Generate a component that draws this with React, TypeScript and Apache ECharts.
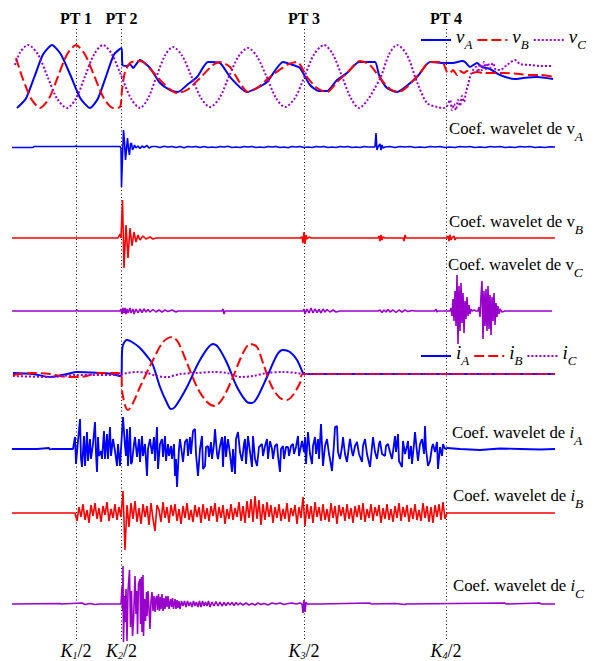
import React, { useEffect, useRef } from 'react';
import * as echarts from 'echarts';

type P = [number, number];

// ---------- time axis (samples) and events ----------
const T_MAX = 543;
const EVENT_T = [64, 109.5, 292, 434];
const EVENT_TOP = ['PT 1', 'PT 2', 'PT 3', 'PT 4'];
const EVENT_K = ['1', '2', '3', '4'];

// ---------- voltages ----------
const vA: P[] = [[5,-31.5],[14,-22],[22.5,0],[31,22],[40,31.5],[49,22],[59,0],[68.5,-22],[78,-31.5],[86,-22],[94,0],[102,22],[109.5,28.5],[110.5,11.5],[115,10.5],[118,12.5],[121,8.5],[128,16.5],[138,8.5],[148,-6.5],[158,-13.5],[166,-15.5],[175,-8.5],[185,-0.5],[196,14.5],[208,13.5],[218,-0.5],[235,-15.5],[245,-11.5],[255,-5.5],[271,14.5],[281,11.5],[288,8.5],[298,-8.5],[307,-14.5],[315,-14.5],[325,-3.5],[335,3.5],[347,14.5],[363,14.5],[367,1.5],[375,-11.5],[385,-15.5],[392,-11.5],[405,-0.5],[418,14.5],[433,13.5],[441,13.5],[450,15.5],[453,14.5],[458,9.5],[465,13.5],[470,9.5],[478,7.5],[488,1.5],[503,-2.5],[511,-1.5],[525,-0.5],[541,-2.5]];
const vB: P[] = [[4,18.5],[10,0],[19,-22],[28,-31.5],[37,-22],[46,0],[55,22],[64,31.5],[73,22],[82.5,0],[92,-22],[101,-31.5],[108,-30.5],[110,-13.5],[113,4.5],[118,13.5],[125,15.5],[131,14.5],[141,4.5],[151,-6.5],[165,-16.5],[175,-13.5],[188,-1.5],[201,11.5],[208,14.5],[218,9.5],[228,-6.5],[236,-15.5],[245,-11.5],[258,-0.5],[275,11.5],[285,14.5],[295,-0.5],[305,-11.5],[315,-15.5],[325,-5.5],[335,3.5],[348,15.5],[358,11.5],[368,-1.5],[378,-12.5],[387,-15.5],[395,-10.5],[408,3.5],[418,14.5],[430,14.5],[435,4.5],[438,3.5],[441,6.5],[445,1.5],[448,5.5],[452,3.5],[455,5.5],[460,3.5],[465,4.5],[472,3.5],[481,3.5],[492,3.5],[508,2.5],[518,1.5],[528,1.5],[542,-0.5]];
const vC: P[] = [[3,11.5],[8,24],[16,31.5],[26,22],[35.5,0],[45,-22],[55,-31.5],[64,-22],[73,0],[82,22],[91,31.5],[100,22],[109.5,0],[119,-22],[128,-31.5],[136,-22],[144.5,0],[153,21],[161,29.5],[170,21],[179.5,0],[189,-21.5],[198,-30.5],[207.5,-21.5],[217,0],[226.5,20],[236,28.5],[245,20],[254.5,0],[264,-21.5],[273,-30.5],[283,-21.5],[292.5,0],[302,22],[312,31.5],[321,22],[330,0],[339,-22],[347,-31.5],[356,-23],[362,-13],[369,0],[377,22],[385,31.5],[395,21.5],[405,-5.5],[415,-26.5],[425,-30.5],[432,-31.5],[435,-29.5],[438,-23.5],[440,-33.5],[442,-27.5],[444,-33.5],[446,-23.5],[448,-29.5],[450,-19.5],[452,-25.5],[454,-15.5],[456,-8.5],[458,-0.5],[461,6.5],[464,9.5],[466,4.5],[468,12.5],[470,6.5],[472,14.5],[474,7.5],[476,13.5],[478,8.5],[481,13.5],[484,6.5],[488,6.5],[495,11.5],[503,16.5],[508,12.5],[518,11.5],[528,10.5],[541,10.5]];

// ---------- voltage wavelet coefficients ----------
const wA_head: P[] = [[0,-0.5],[21,-0.5],[22,0.5],[63,0.5],[64,1],[65,0.5],[108,0.5],[109,-1],[109.5,-40],[110.5,-10],[111.5,17],[112.5,5],[113.5,-13],[114.5,-2],[115.5,9],[116.5,-2],[117.5,-8],[118.5,3],[119.5,4],[120.5,-3],[121.5,-1],[122.5,2],[124,-1],[126,1],[128,-1.5],[130,1],[132,-0.5],[135,1.5],[137,-1],[140,0.5]];
const wA_noise_t0 = 144, wA_noise_dt = 4;
const wA_noise = [0.5,-0.5,0.8,0,0.5,-0.5,0.5,-0.8,0.5,0,0.5,-0.5,0.5,-0.5,0,-0.5,0.5,0,0.8,-0.5,0,-0.5,0.5,0,0.5,-0.5,0,-0.5,0.5,0,0.5,-0.5,0,-0.8,0.5,0,0.5,-0.5,0,-0.5,0.5,0,0.5,-0.5,0,-0.5,0.5,0,0.5,-0.5,0,-0.5,0.5,0,0];
const wA_spike: P[] = [[363,0],[364,14],[365,-3],[366,0],[368,3],[369,-3],[370,2],[371,-1],[373,0]];
const wA_tail_t0 = 378, wA_tail_dt = 5;
const wA_tail = [0.5,-0.5,0.5,0,0.5,-0.5,0,-0.5,0.5,0,0.5,-0.5,0,-0.5,0.5,0,0.5,-0.5,0,-0.5,0.5,0,0.5,-0.5,0,-0.5,0.5,0,0.5,-0.5,0,-0.5,0.3,0];

const wB: P[] = [[0,0],[106,0],[108,4],[109,0],[110.5,38],[112,-30],[114,13],[116,-20],[118,10],[120,-8],[122,6],[124,-4],[126,3],[128,-2],[131,2],[134,-1],[138,1],[141,-1],[144,0],[288,0],[290,1],[291,-5],[292,6],[293,-6],[294,3],[295,-1],[297,1],[299,0],[366,0],[367,2],[368,-3],[369,3],[370,-2],[371,1],[373,0],[391,0],[392,-3],[393,3],[394,0],[435,0],[436,2],[437,-3],[438,3],[439,-2],[440,0],[442,2],[443,-2],[444,0],[543,0]];

const wC: P[] = [[0,0],[64,0],[65,1],[66,0],[108,0],[109,2],[110,-3],[111,3],[112,-2],[113,3],[114,-3],[115,2],[116,-2],[118,3],[119,-2],[121,2],[122,-3],[124,2],[126,-2],[128,2],[130,-1.5],[132,2],[134,-1],[136,1.5],[138,-1],[141,1.5],[144,-1],[147,1],[150,-1],[153,1],[156,-0.5],[160,1],[164,-1],[166,0],[210,0],[211,2],[212,-3],[213,0],[291,0],[292,2],[293,-3],[295,2],[297,-2],[299,3],[301,-2],[303,2],[305,-1.5],[307,1.5],[309,-2],[311,2],[313,-1],[315,1.5],[318,-1],[321,1],[324,-1],[328,0],[366,0],[368,1],[370,-1.5],[372,1],[374,-1],[376,1.5],[378,-1],[381,1],[384,-1.5],[387,1],[390,-1],[393,1],[396,-0.5],[400,0.5],[403,0],[423,0],[424,2],[425,-1],[426,0],
  [438,0],[439,3],[440,-5],[441,12],[442,-10],[443,20],[444,-15],[445,36],[446,-33],[447,25],[448,-20],[449,28],[450,-12],[451,18],[452,-22],[453,10],[454,-8],[455,14],[456,-5],[457,6],[458,-3],[459,2],[460,0],[462,1],[464,0],
  [466,0],[467,4],[468,-6],[469,15],[470,30],[471,-28],[472,20],[473,-15],[474,22],[475,-20],[476,25],[477,-18],[478,16],[479,-24],[480,14],[481,-10],[482,18],[483,-14],[484,8],[485,-6],[486,5],[487,-3],[488,2],[490,-1],[493,0],[540,0]];

// ---------- currents ----------
const iA: P[] = [[1,1],[21,0],[38,-3],[55,0],[65,2],[88,1],[101,0],[108,-2],[109.5,-1],[110,21],[111,29],[115,34],[120,32],[128,26],[138,14],[141,9],[148,-13],[155,-29],[159,-35],[163,-33],[175,-13],[188,14],[201,30],[206,27],[215,11],[225,-13],[235,-28],[240,-29],[245,-24],[255,-3],[265,19],[271,24],[278,22],[285,14],[291,1],[292,0],[543,0]];
const iB: P[] = [[1,-1],[21,1],[38,0],[55,-3],[68,-3],[88,1],[105,1],[109.5,0],[110,-16],[113,-31],[116,-36],[121,-29],[128,-13],[141,14],[151,32],[160,37],[166,32],[175,11],[185,-13],[195,-28],[203,-32],[211,-24],[221,-3],[231,21],[238,30],[245,27],[251,11],[260,-13],[268,-24],[275,-26],[281,-21],[288,-9],[291,0],[543,0]];
const iC: P[] = [[1,-2],[38,-3],[65,-1],[108,-1],[115,1],[125,2],[135,1],[145,-2],[155,-3],[168,0],[185,1],[201,2],[215,1],[228,-3],[241,-2],[255,1],[271,2],[285,1],[292,0],[543,0]];

// ---------- current wavelet coefficients ----------
const wiA: P[] = [[0,0],[25,0],[37,1],[38,-0.5],[40,0],[61,0],
  [63,12],[64,-15],[66,8],[68,30],[69,-10],[70,-18],[72,13],[73,-17],[75,17],[76,-12],[78,10],[79,-10],[81,5],[83,27],[84,-5],[85,-23],[86,12],[87,-7],[89,-2],[90,-10],[92,18],[93,-10],[95,15],[96,-10],[98,22],[99,-7],[101,10],[103,-2],[105,-17],[106,5],[108,-17],[109,0],
  [111,32],[113,3],[114,-7],[115,20],[116,-17],[118,22],[119,-15],[120,-13],[122,5],[123,12],[125,-8],[127,10],[128,-13],[130,13],[131,-7],[133,5],[135,-27],[136,0],[138,10],[140,-5],[142,12],[143,-12],[145,22],[146,-20],[148,5],[150,10],[151,-8],[153,13],[154,-12],[156,5],[157,-7],[159,3],[160,-10],[162,5],[163,-27],[164,-10],[165,-38],[167,0],[168,10],[170,-5],[171,-13],[173,7],[175,10],[176,-7],[178,12],[179,-5],[181,18],[183,20],[184,-5],[186,-27],[188,0],[190,13],[191,-20],[193,-17],[194,2],[196,3],[197,-8],[199,7],[200,-10],[202,5],[203,20],[205,-5],[206,-10],[208,3],[210,12],[211,-18],[212,5],[213,13],[214,-8],[216,10],[218,-5],[220,-23],[221,0],[223,-25],[224,10],[226,17],[228,-3],[230,-12],[232,5],[233,10],[234,-15],[236,13],[238,-3],[240,-18],[241,13],[243,-10],[245,-17],[247,2],[250,5],[251,-7],[253,3],[255,10],[256,-10],[258,8],[260,0],[261,-10],[263,3],[265,5],[266,-7],[268,-23],[269,0],[271,3],[272,-10],[274,2],[276,2],[277,-7],[279,3],[281,5],[282,-5],[284,2],[286,13],[287,-7],[290,8],
  [292,-3],[293,12],[294,-15],[296,17],[298,-5],[300,-15],[301,3],[303,12],[304,-5],[306,10],[307,-10],[309,25],[311,-17],[313,3],[315,10],[317,-5],[318,-10],[320,-22],[322,5],[323,22],[325,23],[326,-3],[328,-10],[330,2],[331,12],[333,-5],[335,-13],[337,3],[338,10],[340,-3],[341,-7],[343,3],[345,7],[347,-5],[350,-13],[351,3],[353,10],[355,-5],[358,-18],[360,2],[361,12],[363,-3],[365,-10],[367,5],[368,8],[370,-5],[373,-7],[374,3],[376,5],[378,-3],[380,-10],[382,5],[383,13],[384,-3],[386,15],[387,-12],[390,-18],[391,8],[393,-5],[395,3],[396,8],[397,-10],[399,3],[400,-15],[402,5],[403,17],[405,-3],[406,-12],[408,5],[410,10],[412,-5],[413,23],[414,0],[416,-17],[418,-12],[420,2],[421,5],[423,-3],[425,7],[426,-20],[428,2],[430,-7],[431,5],[433,0],[435,1],
  [448,0],[468,-1],[488,0.5],[508,0],[528,-0.5],[543,0]];

const wiB_t0 = 63, wiB_dt = 2;
const wiB_vals = [0,-8,6,-4,9,-7,3,-10,8,-3,10,-6,5,-9,7,-2,11,-8,4,-5,9,-7,6,-4,
  22,-37,8,-14,10,-6,12,-9,5,-11,9,-4,7,-12,10,-6,-18,8,3,-9,11,-5,6,-10,8,-3,
  9,-8,4,-11,7,-5,10,-7,3,-9,8,-4,6,-10,9,-6,5,-8,7,-3,10,-9,6,-5,8,-11,4,-6,9,-7,5,-4,11,-8,7,-10,12,-5,14,-9,17,-6,13,-12,9,-7,11,-4,8,-10,
  6,-5,9,-8,4,-6,10,-9,5,-3,8,-11,6,-5,16,-13,9,-6,7,-10,11,-4,6,-8,9,-7,4,-9,10,-5,7,-11,8,-3,6,-8,9,-6,5,-10,7,-4,8,-7,10,-9,4,-5,9,-8,
  6,-3,8,-10,5,-6,9,-7,4,-9,7,-5,10,-8,6,-4,8,-9,5,-6,9,-7,3,-8,10,-5,7,-9,6,-10,8,-4,9,-7,11,-6,0];
const wiB_tail: P[] = [[437,0],[543,0]];

const wiC: P[] = [[0,0],[48,0.5],[49,0],[70,1],[73,-0.5],[78,0.5],[83,-0.5],[88,0],[109,0],
  [110,17],[110.5,-7],[111,38],[111.5,-38],[112.5,8],[113,-18],[114,15],[115,-37],[116,13],[117.5,34],[118.5,-23],[119.5,13],[120.5,-32],[121.5,-17],[123,28],[124,-10],[125,13],[125.5,-30],[126.5,20],[128,25],[128.5,-20],[129.5,27],[130,-28],[131,29],[131.5,-32],[132.5,5],[133.5,-17],[134.5,12],[135,-12],[136,13],[137,-5],[138,-25],[139,3],[140,12],[141,-7],[142,8],[143,-8],[144,6],[145,8],[145.5,-6],[146.5,10],[147.5,-7],[148.5,7],[149,-5],[150,10],[151,-7],[152,6],[153,-5],[154,8],[155,-3],[156,8],[157,-5],[158.5,5],[159.5,-3],[160.5,6],[161.5,-5],[163,5],[164,-5],[165,4],[166,-4],[167,3],[168,-5],[169.5,3],[171,-2],[172.5,3],[174,-3],[175.5,3],[177,-2],[178.5,2],[180,-3],[181.5,3],[183,-2],[184.5,2],[186,-3],[187.5,3],[189,-3],[190.5,3],[192,-2],[193.5,2],[195,-2],[196.5,3],[198,-3],
  [200,2],[202,-2],[204,2.5],[206,-2],[208,2],[210,-2],[212,1.5],[214,-1.5],[216,1.5],[218,-1],[220,1.5],[222,-1.5],[224,1.5],[226,-1],[228,1],[231,-1],[234,1],[237,-1],[240,0.5],[243,-1],[246,1],[249,-0.5],[252,0.5],[256,-1],[260,1],[264,0],[268,1],[272,-0.5],[276,0.5],[280,1],[284,0],[288,1],[290,0],[291,-9],[292,4],[293,-8],[294,2],[295,0],[308,0],[358,1],[359,0],[383,0.5],[393,-0.5],[394,0],[493,1],[494,0],[528,1],[529,0],[543,0]];

// ---------- helpers ----------
function seq(t0: number, dt: number, vals: number[]): P[] {
  return vals.map((v, i) => [t0 + i * dt, v] as P);
}
const wA: P[] = [...wA_head, ...seq(wA_noise_t0, wA_noise_dt, wA_noise), ...wA_spike, ...seq(wA_tail_t0, wA_tail_dt, wA_tail)];
const wiB: P[] = [[0, 0], ...seq(wiB_t0, wiB_dt, wiB_vals), ...wiB_tail];

// ---------- styling / layout ----------
const SERIF = '"Liberation Serif", "Times New Roman", serif';
const BLUE = '#0000ff';
const RED = '#ff0000';
const PURPLE = '#9900cc';
const DASH = [10, 4];
const DOT = [2, 2];

const PANEL_BASE = [76.5, 147, 238, 311, 374, 449, 513, 604];
const HALF = 45;
const LEFT = 12;
const WIDTH = 543;
const FRAME_TOP = 28;
const FRAME_BOTTOM = 639;

const TRACES = [
  { name: 'vA', panel: 0, data: vA, color: BLUE, type: 'solid', width: 2, smooth: 0.2 },
  { name: 'vB', panel: 0, data: vB, color: RED, type: DASH, width: 2, smooth: 0.25 },
  { name: 'vC', panel: 0, data: vC, color: PURPLE, type: DOT, width: 2, smooth: 0.3 },
  { name: 'wA', panel: 1, data: wA, color: BLUE, type: 'solid', width: 1.6, smooth: false },
  { name: 'wB', panel: 2, data: wB, color: RED, type: 'solid', width: 1.6, smooth: false },
  { name: 'wC', panel: 3, data: wC, color: PURPLE, type: 'solid', width: 1.6, smooth: false },
  { name: 'iA', panel: 4, data: iA, color: BLUE, type: 'solid', width: 2, smooth: 0.3 },
  { name: 'iB', panel: 4, data: iB, color: RED, type: DASH, width: 2, smooth: 0.3 },
  { name: 'iC', panel: 4, data: iC, color: PURPLE, type: DOT, width: 2, smooth: 0.3 },
  { name: 'wiA', panel: 5, data: wiA, color: BLUE, type: 'solid', width: 1.8, smooth: false },
  { name: 'wiB', panel: 6, data: wiB, color: RED, type: 'solid', width: 1.6, smooth: false },
  { name: 'wiC', panel: 7, data: wiC, color: PURPLE, type: 'solid', width: 1.6, smooth: false },
];

const COEF_LABELS = [
  { sym: 'v', italic: false, sub: 'A', x: 449, base: 134 },
  { sym: 'v', italic: false, sub: 'B', x: 449, base: 227 },
  { sym: 'v', italic: false, sub: 'C', x: 448, base: 270 },
  { sym: 'i', italic: true, sub: 'A', x: 452, base: 438 },
  { sym: 'i', italic: true, sub: 'B', x: 453, base: 501 },
  { sym: 'i', italic: true, sub: 'C', x: 453, base: 591 },
];
const COEF_FS = 16.8;

const coefRich = {
  m: { fontFamily: SERIF, fontSize: COEF_FS, lineHeight: 20, color: '#000' },
  u: { fontFamily: SERIF, fontSize: COEF_FS, lineHeight: 20, color: '#000' },
  i: { fontFamily: SERIF, fontSize: COEF_FS, fontStyle: 'italic', lineHeight: 20, color: '#000' },
  s: { fontFamily: SERIF, fontSize: 13.5, fontStyle: 'italic', lineHeight: 20, color: '#000', padding: [15.5, 0, 0, 0] },
};

const legendRich = {
  m: { fontFamily: SERIF, fontSize: 19, fontStyle: 'italic', color: '#000', padding: [0, 0, 8, 0] },
  s: { fontFamily: SERIF, fontSize: 13, fontStyle: 'italic', color: '#000', padding: [8.6, 0, 0, 0] },
};

const kRich = {
  k: { fontFamily: SERIF, fontSize: 18, fontStyle: 'italic', lineHeight: 19, color: '#000' },
  s: { fontFamily: SERIF, fontSize: 10, fontStyle: 'italic', lineHeight: 19, color: '#000', padding: [9, 0, 0, 0] },
  n: { fontFamily: SERIF, fontSize: 18, lineHeight: 19, color: '#000' },
};

function buildOption() {
  const grids: any[] = PANEL_BASE.map((b) => ({ left: LEFT, width: WIDTH, top: b - HALF, height: 2 * HALF }));
  grids.push({ left: LEFT, width: WIDTH, top: FRAME_TOP, height: FRAME_BOTTOM - FRAME_TOP });
  const xAxis = grids.map((_, i) => ({ type: 'value', gridIndex: i, min: 0, max: T_MAX, show: false }));
  const yAxis = grids.map((_, i) =>
    i < PANEL_BASE.length
      ? { type: 'value', gridIndex: i, min: -HALF, max: HALF, show: false }
      : { type: 'value', gridIndex: i, min: 0, max: 1, show: false }
  );
  const frame = PANEL_BASE.length;

  const series: any[] = [
    {
      type: 'line', name: 'events', xAxisIndex: frame, yAxisIndex: frame, data: [[0, 0.5]], symbol: 'none', silent: true,
      lineStyle: { opacity: 0 }, z: 1,
      markLine: {
        silent: true, symbol: ['none', 'none'], animation: false, z: 1,
        lineStyle: { color: '#000', width: 1, type: [1, 2.5] },
        label: { show: true, position: 'end', distance: 2, fontFamily: SERIF, fontWeight: 'bold', fontSize: 16, color: '#000' },
        data: EVENT_T.map((t, i) => ({ xAxis: t, label: { formatter: EVENT_TOP[i] } })),
      },
    },
    {
      type: 'line', name: 'eventsK', xAxisIndex: frame, yAxisIndex: frame, data: [[0, 0.5]], symbol: 'none', silent: true,
      lineStyle: { opacity: 0 }, z: 1,
      markLine: {
        silent: true, symbol: ['none', 'none'], animation: false, z: 1,
        lineStyle: { color: 'rgba(0,0,0,0)', width: 1, type: 'solid' },
        label: { show: true, position: 'start', distance: 2, color: '#000', rich: kRich },
        data: EVENT_T.map((t, i) => ({ xAxis: t, label: { formatter: `{k|K}{s|${EVENT_K[i]}}{n|/2}` } })),
      },
    },
    ...TRACES.map((tr) => ({
      type: 'line', name: tr.name, xAxisIndex: tr.panel, yAxisIndex: tr.panel, data: tr.data,
      symbol: 'none', showSymbol: false, smooth: tr.smooth, silent: true, z: 2,
      lineStyle: { color: tr.color, width: tr.width, type: tr.type },
      itemStyle: { color: tr.color },
    })),
  ];

  const legendBase = {
    orient: 'horizontal', padding: 0, itemWidth: 30, itemHeight: 14, itemGap: 4, selectedMode: false,
    itemStyle: { opacity: 0 },
    formatter: (name: string) => `{m|${name.charAt(0)}}{s|${name.charAt(1)}}`,
    textStyle: { rich: legendRich },
  };

  return {
    animation: false,
    textStyle: { fontFamily: SERIF },
    grid: grids,
    xAxis,
    yAxis,
    legend: [
      { ...legendBase, data: ['vA', 'vB', 'vC'], left: 420, top: 26.5 },
      { ...legendBase, data: ['iA', 'iB', 'iC'], left: 420, top: 342.5 },
    ],
    graphic: COEF_LABELS.map((l) => ({
      type: 'text', x: l.x, y: l.base - 15.7, silent: true,
      style: {
        text: `{m|Coef. wavelet de }{${l.italic ? 'i' : 'u'}|${l.sym}}{s|${l.sub}}`,
        rich: coefRich, align: 'left', verticalAlign: 'top',
      },
    })),
    series,
  };
}

export default function App() {
  const ref = useRef<HTMLDivElement>(null);
  useEffect(() => {
    if (!ref.current) return;
    const chart = echarts.init(ref.current, null, { renderer: 'svg' });
    chart.setOption(buildOption() as any);
    return () => chart.dispose();
  }, []);
  return (
    <div
      ref={ref}
      style={{ position: 'fixed', left: 0, top: 0, width: 597, height: 661, background: '#fff' }}
    />
  );
}
